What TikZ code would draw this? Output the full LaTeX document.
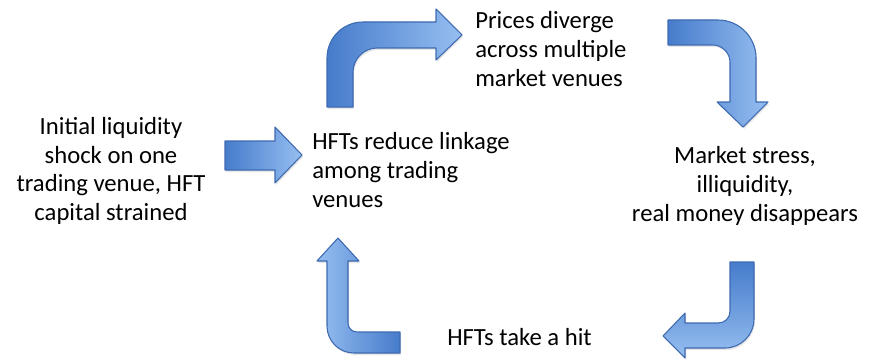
\documentclass[tikz,border=0pt]{standalone}
\usepackage{fontspec}
\setmainfont{Carlito}
\usetikzlibrary{
    shadows, % Soft shadow under the block arrows.
}

\definecolor{arrowdark}{RGB}{70,124,204}
\definecolor{arrowlight}{RGB}{150,190,240}
\definecolor{arrowline}{RGB}{62,106,176}

\begin{document}
\begin{tikzpicture}[%
        x = 0.75pt,
        y = -0.75pt,
        line join = round,
        stagetext/.style = {font = \fontsize{18.5}{21.5}\selectfont, inner sep = 0pt},
        blockarrow/.style = {%
            draw = arrowline,
            line width = 0.8pt,
            drop shadow = {opacity = 0.2, shadow xshift = 0.8pt, shadow yshift = -1.5pt}
        }
    ]

        \useasboundingbox (0, 0) rectangle (877, 360);

        % Text for each stage of the cycle.
        \node[stagetext, align = center] (shock) at (111, 171)
            {Initial liquidity\\ shock on one\\ trading venue, HFT\\ capital strained};
        \node[stagetext, align = left, anchor = west] (linkage) at (312, 170)
            {HFTs reduce linkage\\ among trading\\ venues};
        \node[stagetext, align = left, anchor = west] (diverge) at (475, 49)
            {Prices diverge\\ across multiple\\ market venues};
        \node[stagetext, align = center] (stress) at (745, 186)
            {Market stress,\\ illiquidity,\\ real money disappears};
        \node[stagetext, anchor = base west] (hit) at (447, 345) {HFTs take a hit};

        % Straight arrow into the linkage stage.
        \draw[blockarrow, left color = arrowdark, right color = arrowlight]
            (225, 141) -- (275, 141) -- (275, 127) -- (302, 155)
            -- (275, 183) -- (275, 170) -- (225, 170) -- cycle;

        % Bent arrow: up, then right.
        \draw[blockarrow, left color = arrowdark, right color = arrowlight]
            (327, 107) -- (327, 58) .. controls (327, 38) and (343, 22) .. (363, 22)
            -- (436, 22) -- (436, 9) -- (462, 35) -- (436, 60) -- (436, 48)
            -- (377, 48) .. controls (364, 48) and (353, 59) .. (353, 72)
            -- (353, 107) -- cycle;

        % Bent arrow: right, then down.
        \draw[blockarrow, left color = arrowdark, right color = arrowlight]
            (668, 20) -- (718, 20) .. controls (739, 20) and (756, 37) .. (756, 58)
            -- (756, 102) -- (768, 102) -- (743, 127) -- (717, 102) -- (730, 102)
            -- (730, 62) .. controls (730, 53) and (722, 45) .. (713, 45)
            -- (668, 45) -- cycle;

        % Bent arrow: down, then left.
        \draw[blockarrow, top color = arrowdark, bottom color = arrowlight]
            (730, 262) -- (754, 262) -- (754, 319) .. controls (754, 335) and (741, 348) .. (725, 348)
            -- (685, 348) -- (685, 358) -- (663, 336) -- (685, 313) -- (685, 323)
            -- (718, 323) .. controls (725, 323) and (730, 318) .. (730, 311) -- cycle;

        % Bent arrow: left, then up.
        \draw[blockarrow, left color = arrowlight, right color = arrowdark]
            (400, 332) -- (400, 353) -- (354, 353) .. controls (339, 353) and (327, 341) .. (327, 326)
            -- (327, 261) -- (317, 261) -- (338, 238) -- (359, 261) -- (348, 261)
            -- (348, 323) .. controls (348, 328) and (352, 332) .. (357, 332) -- cycle;
    \end{tikzpicture}
\end{document}
